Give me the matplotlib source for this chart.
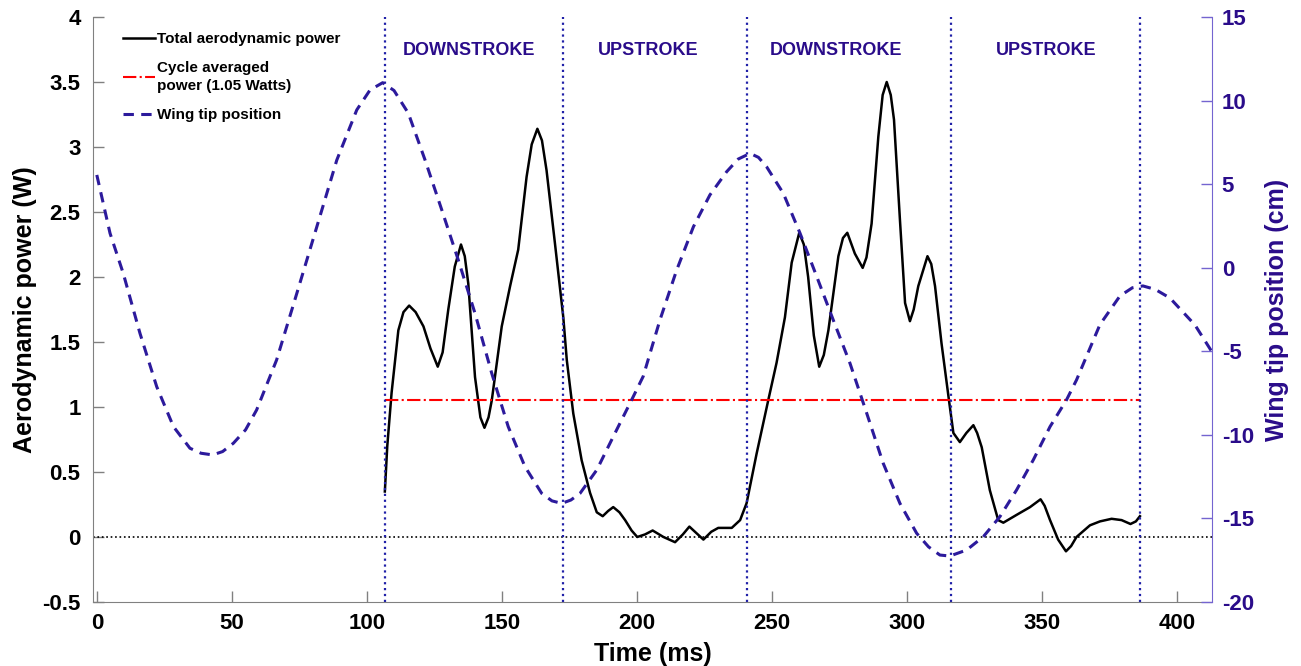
import matplotlib.pyplot as plt
from matplotlib.lines import Line2D

plt.rcParams['font.family'] = ['Liberation Sans', 'DejaVu Sans']
plt.rcParams['font.weight'] = 'bold'
plt.rcParams['axes.unicode_minus'] = False

# Total aerodynamic power (W)
time_power = [106.6, 107.5, 109.1, 111.6, 113.5, 115.6, 118.0, 120.9, 123.5, 126.2,
              128.0, 130.1, 132.5, 134.8, 136.2, 137.5, 140.0, 142.0, 143.5, 145.0,
              146.2, 149.9, 153.0, 156.0, 159.1, 161.0, 163.1, 164.8, 166.5, 169.6,
              172.7, 174.0, 176.4, 179.5, 182.6, 185.1, 187.3, 189.3, 191.2, 193.5,
              195.6, 198.0, 200.1, 203.0, 205.8, 209.8, 214.1, 217.0, 219.4, 222.0,
              224.6, 227.5, 230.1, 235.1, 238.2, 240.6, 244.3, 248.6, 251.7, 254.8,
              257.3, 260.1, 261.8, 263.4, 265.5, 267.5, 269.2, 270.9, 274.6, 276.3,
              277.9, 280.7, 283.6, 285.0, 286.9, 289.4, 291.0, 292.5, 294.0, 295.2,
              297.4, 299.3, 301.1, 302.5, 304.2, 307.6, 309.0, 310.4, 312.8, 315.7,
              317.2, 319.6, 322.0, 324.6, 326.0, 327.7, 330.7, 333.8, 335.7, 340.6,
              345.6, 349.5, 351.0, 353.0, 356.0, 358.9, 360.8, 362.8, 367.8, 371.5,
              375.8, 379.5, 382.8, 384.8, 386.3]
power = [0.35, 0.70, 1.11, 1.59, 1.73, 1.78, 1.73, 1.62, 1.45, 1.31,
         1.42, 1.75, 2.08, 2.25, 2.16, 1.95, 1.23, 0.92, 0.84, 0.92,
         1.05, 1.62, 1.93, 2.21, 2.77, 3.02, 3.14, 3.05, 2.82, 2.26,
         1.69, 1.36, 0.95, 0.59, 0.34, 0.19, 0.16, 0.20, 0.23, 0.19,
         0.13, 0.05, 0.00, 0.02, 0.05, 0.00, -0.04, 0.02, 0.08, 0.03,
         -0.02, 0.04, 0.07, 0.07, 0.13, 0.26, 0.64, 1.05, 1.34, 1.69,
         2.11, 2.34, 2.25, 2.00, 1.55, 1.31, 1.40, 1.59, 2.16, 2.30,
         2.34, 2.18, 2.07, 2.15, 2.41, 3.08, 3.40, 3.50, 3.40, 3.21,
         2.44, 1.80, 1.66, 1.75, 1.93, 2.16, 2.10, 1.93, 1.49, 1.03,
         0.80, 0.73, 0.80, 0.86, 0.80, 0.69, 0.36, 0.13, 0.11, 0.17,
         0.23, 0.29, 0.24, 0.13, -0.02, -0.11, -0.07, 0.00, 0.09, 0.12,
         0.14, 0.13, 0.10, 0.12, 0.16]

# Wing tip position (cm)
time_tip = [-0.1, 4.8, 9.7, 15.9, 22.1, 28.3, 34.4, 38.5, 42.8, 46.5, 50.5, 55.0,
            59.1, 66.5, 74.0, 81.4, 88.8, 96.2, 101.1, 105.8, 110.0, 115.3, 121.5,
            127.7, 133.8, 140.0, 146.2, 152.3, 158.5, 164.7, 168.5, 172.1, 175.5,
            178.9, 185.1, 191.2, 198.6, 202.3, 208.5, 214.7, 220.9, 227.0, 233.2,
            237.5, 241.9, 245.0, 248.0, 254.2, 260.4, 266.6, 272.7, 278.9, 285.1,
            291.2, 297.4, 303.6, 308.0, 312.2, 315.9, 322.1, 328.3, 334.4, 340.6,
            346.8, 353.0, 359.1, 362.8, 371.5, 378.9, 383.5, 387.4, 392.0, 397.4,
            406.7, 413.0]
tip = [5.55, 2.06, -0.34, -3.93, -7.12, -9.51, -10.8, -11.1, -11.2, -11.0, -10.5, -9.7,
       -8.51, -5.52, -1.53, 2.45, 6.44, 9.44, 10.63, 11.07, 10.6, 9.24, 6.44,
       3.45, 0.46, -2.73, -6.32, -9.51, -11.9, -13.5, -13.95, -14.1, -13.9,
       -13.5, -12.1, -10.11, -7.72, -6.5, -3.13, -0.14, 2.45, 4.35, 5.74,
       6.5, 6.84, 6.6, 6.04, 4.45, 2.06, -0.54, -3.13, -5.72, -8.71,
       -11.7, -14.1, -15.89, -16.7, -17.19, -17.25, -16.89, -16.09, -14.9, -13.3,
       -11.5, -9.51, -7.91, -6.72, -3.4, -1.69, -1.2, -1.09, -1.3, -1.81,
       -3.43, -5.04]

stroke_bounds = [106.7, 172.5, 240.8, 316.2, 386.4]
stroke_names = ['DOWNSTROKE', 'UPSTROKE', 'DOWNSTROKE', 'UPSTROKE']
stroke_label_x = [137.8, 204.0, 273.7, 351.5]
mean_power = 1.05

purple = '#2c1a9c'
label_purple = '#2a0c8a'

fig = plt.figure(figsize=(13.01, 6.66), dpi=100)
ax = fig.add_axes([0.0715, 0.0961, 0.8601, 0.8784])
ax2 = ax.twinx()

ax.plot(time_power, power, color='black', linewidth=1.8)
ax.plot([stroke_bounds[0], stroke_bounds[-1]], [mean_power, mean_power],
        color='red', linestyle='-.', linewidth=1.5)
ax.axhline(0, color='black', linestyle=':', linewidth=1.2)
for xb in stroke_bounds:
    ax.axvline(xb, color='#2020a8', linestyle=':', linewidth=1.6)
for xs, name in zip(stroke_label_x, stroke_names):
    ax.text(xs, 3.74, name, color=label_purple, fontsize=13, fontweight='bold',
            ha='center', va='center')

ax2.plot(time_tip, tip, color=purple, linewidth=2.2, dashes=(3.4, 2.4))

ax.set_xlim(-1.5, 413)
ax.set_ylim(-0.5, 4)
ax2.set_ylim(-20, 15)
ax.set_xticks(range(0, 401, 50))
ax.set_yticks([-0.5, 0, 0.5, 1, 1.5, 2, 2.5, 3, 3.5, 4])
ax.set_yticklabels(['-0.5', '0', '0.5', '1', '1.5', '2', '2.5', '3', '3.5', '4'])
ax2.set_yticks(range(-20, 16, 5))

for a in (ax, ax2):
    a.spines['top'].set_visible(False)
ax.spines['right'].set_visible(False)
ax.spines['left'].set_color('#808080')
ax.spines['bottom'].set_color('#808080')
ax2.spines['left'].set_visible(False)
ax2.spines['bottom'].set_visible(False)
ax2.spines['right'].set_color('#7464d0')
ax.tick_params(axis='y', direction='in', length=8, width=1, color='#808080',
               labelsize=16, pad=9)
ax.tick_params(axis='x', direction='in', length=8, width=1, color='#808080',
               labelsize=16, pad=8)
ax2.tick_params(direction='in', length=8, width=1, color='#7464d0',
                labelsize=16, labelcolor=label_purple, pad=7)

ax.set_xlabel('Time (ms)', fontsize=18, fontweight='bold', labelpad=6)
ax.set_ylabel('Aerodynamic power (W)', fontsize=18, fontweight='bold', labelpad=4)
ax2.set_ylabel('Wing tip position (cm)', fontsize=18, fontweight='bold',
               color=label_purple, labelpad=8)

handles = [Line2D([], [], color='black', linewidth=1.8),
           Line2D([], [], color='red', linestyle='-.', linewidth=1.5),
           Line2D([], [], color=purple, linewidth=2.2, dashes=(3.4, 2.4))]
labels = ['Total aerodynamic power', 'Cycle averaged\npower (1.05 Watts)',
          'Wing tip position']
leg = ax2.legend(handles, labels, loc='upper left', bbox_to_anchor=(0.021, 0.985),
                 frameon=False, prop={'size': 11, 'weight': 'bold'},
                 handlelength=2.1, handletextpad=0.15, labelspacing=1.0,
                 borderaxespad=0)
for t in leg.get_texts():
    t.set_linespacing(1.35)

fig.savefig('out.png', dpi=100)
